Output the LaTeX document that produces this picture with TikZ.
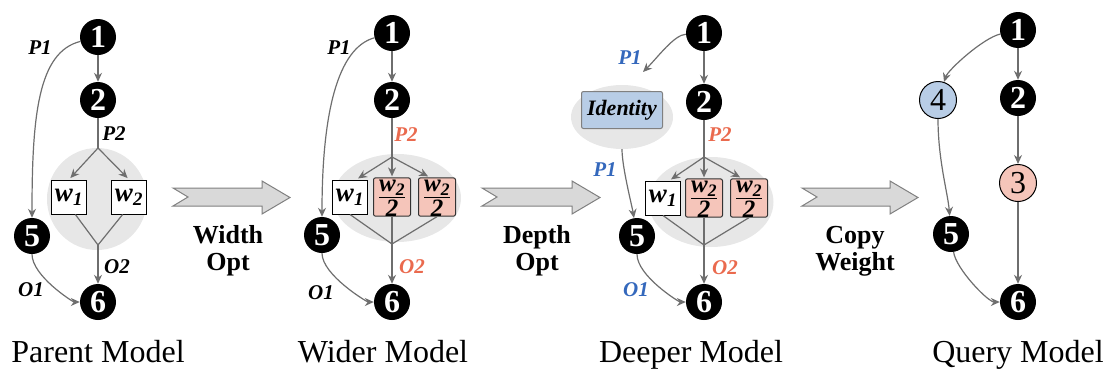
\documentclass[tikz,border=0pt]{standalone}
\usepackage{fontspec}
\setmainfont{Liberation Serif}
\usetikzlibrary{arrows.meta,shapes.geometric}

\definecolor{edgegray}{HTML}{6E6E6E}
\definecolor{blobgray}{HTML}{E7E7E7}
\definecolor{halfpink}{HTML}{F5C5BA}
\definecolor{idblue}{HTML}{B8CDE6}
\definecolor{lblorange}{HTML}{EA6A4E}
\definecolor{lblblue}{HTML}{3468BC}
\definecolor{arrowfill}{HTML}{D9D9D9}
\definecolor{arrowline}{HTML}{808080}

% weight labels
\newcommand\wone{\textbf{\textit{w}}\textsubscript{\textbf{\textit{1}}}}
\newcommand\wtwo{\textbf{\textit{w}}\textsubscript{\textbf{\textit{2}}}}
% w2 / 2 as a stacked fraction
\newcommand\whalf{\vbox{\offinterlineskip\halign{\hfil##\hfil\cr
  \vrule height 14pt depth 3pt width 0pt\wtwo\cr
  \noalign{\kern1.5pt\hrule height 1pt\kern1.5pt}
  \vrule height 15pt depth 0pt width 0pt\textbf{\textit{2}}\cr}}}

% broad transition arrow between two models: tail x, tip x
\newcommand\blockarrow[2]{%
  \draw[bigarrow] (#1,188) -- (#2-28,188) -- (#2-28,181) -- (#2,197.5)
    -- (#2-28,214) -- (#2-28,206) -- (#1,206) -- (#1+15,197) -- cycle;}

\begin{document}
\begin{tikzpicture}[x=1pt, y=-1pt,
  num/.style={circle, fill=black, inner sep=0pt, minimum size=36pt, text=white,
    font=\fontsize{32}{32}\selectfont\bfseries},
  qnum/.style={circle, draw=black, line width=1pt, inner sep=0pt, minimum size=37pt,
    font=\fontsize{32}{32}\selectfont},
  link/.style={draw=edgegray, line width=1.2pt},
  flow/.style={link, -{Stealth[length=9pt, width=8pt]}},
  tag/.style={font=\fontsize{21}{21}\selectfont\bfseries\itshape},
  wbox/.style={draw=black, line width=1pt, fill=white, minimum width=35pt,
    minimum height=34pt, inner sep=0pt, font=\fontsize{27}{27}\selectfont},
  hbox/.style={draw=black!80, line width=1pt, fill=halfpink, rounded corners=2pt,
    minimum width=37pt, minimum height=37pt, inner sep=0pt,
    font=\fontsize{25}{25}\selectfont},
  idbox/.style={draw=black!50, line width=1pt, fill=idblue, rounded corners=2pt,
    minimum width=81pt, minimum height=37pt, inner sep=0pt,
    font=\fontsize{22}{22}\selectfont\bfseries\itshape},
  blob/.style={ellipse, fill=blobgray, inner sep=0pt},
  caption/.style={anchor=base, font=\fontsize{32}{32}\selectfont},
  opname/.style={align=center, font=\fontsize{26}{27}\selectfont\bfseries},
  bigarrow/.style={fill=arrowfill, draw=arrowline, line width=1pt, line join=miter}]

\useasboundingbox (0,0) rectangle (1107,370);

% ================= Parent model =================
\node[blob, minimum width=100pt, minimum height=102pt] (pb) at (97,199) {};
\node[num] (p1) at (98,37) {1};
\node[num] (p2) at (98,100) {2};
\node[num] (p5) at (32,236) {5};
\node[num] (p6) at (98,302) {6};
\node[wbox] (pw1) at (69,197) {\wone};
\node[wbox] (pw2) at (129,197) {\wtwo};
\coordinate (ps) at (98,148);
\coordinate (pm) at (98,245);
\draw[flow] (p1) -- (p2);
\draw[link] (p2) -- (ps);
\draw[flow, shorten >=2pt] (ps) -- (pw1.north);
\draw[flow, shorten >=2pt] (ps) -- (pw2.north);
\draw[link] (pw1.-70) -- (pm);
\draw[link] (pw2.-110) -- (pm);
\draw[flow] (pm) -- (p6);
\draw[flow] (p1) .. controls +(-60,15) and +(0,-120) .. (p5);
\draw[flow] (p5) .. controls +(0,40) and +(-25,0) .. (p6);
\node[tag] at (40,48) {P1};
\node[tag] at (114,134) {P2};
\node[tag] at (117,267) {O2};
\node[tag] at (31,290) {O1};
\node[caption] (pcap) at (98,362) {Parent Model};

% ================= Wider model =================
\node[blob, minimum width=128pt, minimum height=88pt] (wb) at (397,198) {};
\node[num] (w1) at (392,33) {1};
\node[num] (w2) at (392,100) {2};
\node[num] (w5) at (322,235) {5};
\node[num] (w6) at (392,302) {6};
\node[wbox] (ww1) at (350,197) {\wone};
\node[hbox] (ww2) at (392,197) {\whalf};
\node[hbox] (ww3) at (437,197) {\whalf};
\coordinate (ws) at (392,157);
\coordinate (wm) at (392,244);
\draw[flow] (w1) -- (w2);
\draw[link] (w2) -- (ws);
\draw[flow, shorten >=2pt] (ws) -- (ww1.70);
\draw[flow, shorten >=1pt] (ws) -- (ww2);
\draw[flow, shorten >=2pt] (ws) -- (ww3.110);
\draw[link] (ww1.south) -- (wm);
\draw[link] (ww2.south) -- (wm);
\draw[link] (ww3.south) -- (wm);
\draw[flow] (wm) -- (w6);
\draw[flow] (w1) .. controls +(-55,15) and +(0,-120) .. (w5);
\draw[flow] (w5) .. controls +(0,40) and +(-25,0) .. (w6);
\node[tag] at (339,48) {P1};
\node[tag, text=lblorange] at (406,135) {P2};
\node[tag, text=lblorange] at (412,267) {O2};
\node[tag] at (321,293) {O1};
\node[caption] (wcap) at (383,362) {Wider Model};

% ================= Deeper model =================
\node[blob, minimum width=102pt, minimum height=64pt] (db0) at (622,117) {};
\node[blob, minimum width=125pt, minimum height=90pt] (db) at (711,202) {};
\node[idbox] (did) at (622,110) {Identity};
\node[num] (d1) at (704,33) {1};
\node[num] (d2) at (704,102) {2};
\node[num] (d5) at (637,236) {5};
\node[num] (d6) at (704,302) {6};
\node[wbox] (dw1) at (663,198) {\wone};
\node[hbox] (dw2) at (704,198) {\whalf};
\node[hbox] (dw3) at (749,198) {\whalf};
\coordinate (ds) at (704,157);
\coordinate (dm) at (704,245);
\coordinate (didin) at (643,72);
\draw[flow] (d1) -- (d2);
\draw[link] (d2) -- (ds);
\draw[flow, shorten >=2pt] (ds) -- (dw1.70);
\draw[flow, shorten >=1pt] (ds) -- (dw2);
\draw[flow, shorten >=2pt] (ds) -- (dw3.110);
\draw[link] (dw1.south) -- (dm);
\draw[link] (dw2.south) -- (dm);
\draw[link] (dw3.south) -- (dm);
\draw[flow] (dm) -- (d6);
\draw[flow] (d1) .. controls +(-30,2) and +(15,-15) .. (didin);
\draw[flow] (db0) .. controls +(0,50) and +(-5,-30) .. (d5);
\draw[flow] (d5) .. controls +(0,40) and +(-25,0) .. (d6);
\node[tag, text=lblblue] at (630,58) {P1};
\node[tag, text=lblblue] at (605,170) {P1};
\node[tag, text=lblorange] at (720,135) {P2};
\node[tag, text=lblorange] at (725,268) {O2};
\node[tag, text=lblblue] at (636,290) {O1};
\node[caption] (dcap) at (691,362) {Deeper Model};

% ================= Query model =================
\node[num] (q1) at (1018,30) {1};
\node[num] (q2) at (1018,98) {2};
\node[qnum, fill=halfpink] (q3) at (1018,183) {3};
\node[qnum, fill=idblue] (q4) at (938,100) {4};
\node[num] (q5) at (951,234) {5};
\node[num] (q6) at (1018,302) {6};
\draw[flow] (q1) -- (q2);
\draw[flow] (q2) -- (q3);
\draw[flow] (q3) -- (q6);
\draw[flow] (q1) .. controls +(-35,8) and +(10,-30) .. (q4);
\draw[flow] (q4) .. controls +(0,60) and +(-3,-40) .. (q5);
\draw[flow] (q5) .. controls +(5,35) and +(-30,0) .. (q6);
\node[caption] (qcap) at (1018,362) {Query Model};

% ================= transitions =================
\blockarrow{173}{290}
\blockarrow{482}{600}
\blockarrow{802}{918}
\node[opname] (opw) at (228,251) {Width\\Opt};
\node[opname] (opd) at (537,251) {Depth\\Opt};
\node[opname] (opc) at (855,251) {Copy\\Weight};

\end{tikzpicture}
\end{document}
